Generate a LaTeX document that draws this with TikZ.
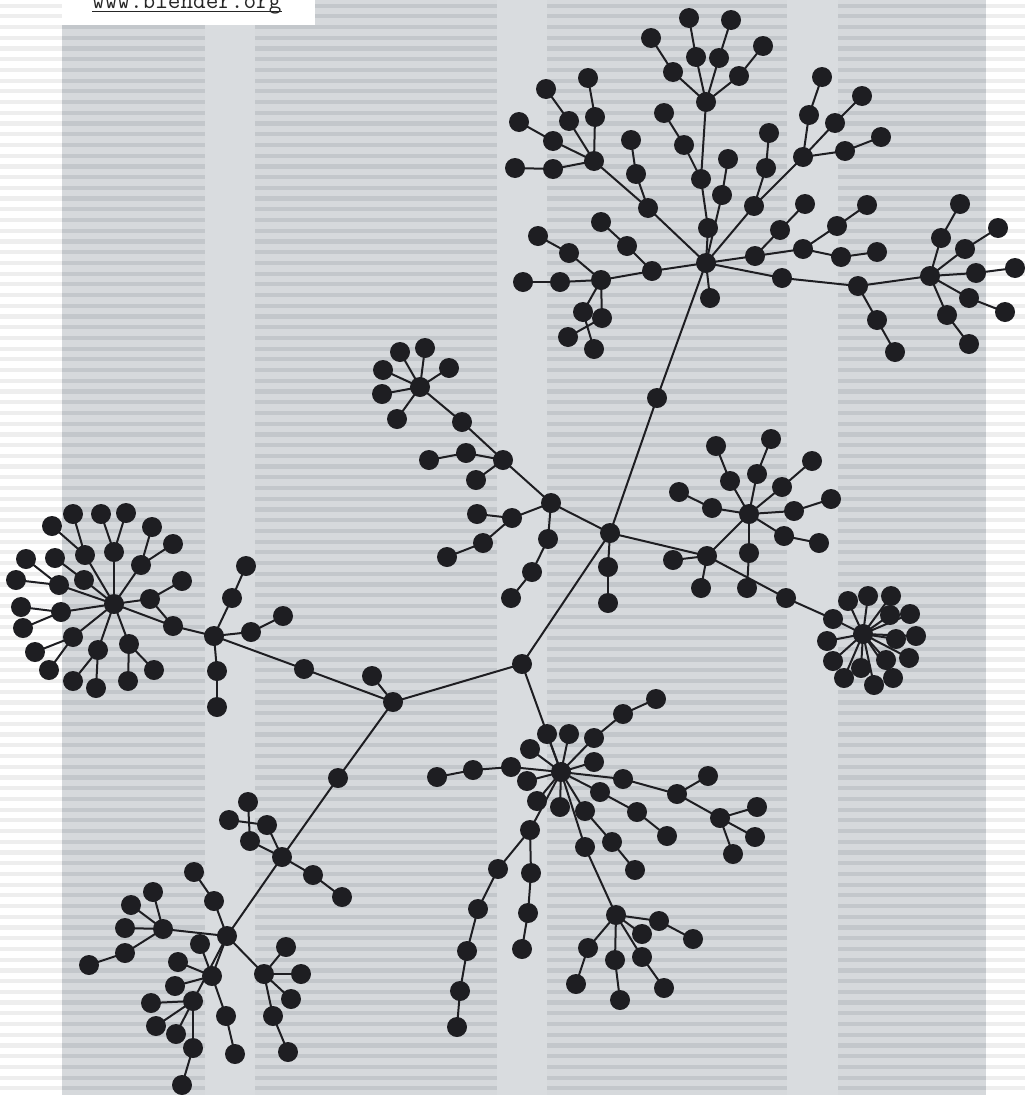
\documentclass[tikz,border=0pt]{standalone}
\definecolor{dotc}{HTML}{1E1E22}
\definecolor{greybase}{HTML}{D6D9DC}
\definecolor{greystripe}{HTML}{C3C7CB}
\definecolor{bandc}{HTML}{D9DCDF}
\definecolor{faint}{HTML}{EEEEEE}
\pgfdeclarelayer{back}
\pgfdeclarelayer{edges}
\pgfsetlayers{back,edges,main}
\begin{document}
\begin{tikzpicture}[x=1pt,y=-1pt,
  dot/.style={circle,fill=dotc,inner sep=0pt,minimum size=20pt},
  link/.style={draw=dotc,line width=2pt},
  stripe/.style={line width=4.2pt},
  band/.style={fill=bandc}]
\useasboundingbox (0,0) rectangle (1025,1095);
\clip (0,0) rectangle (1025,1095);
\begin{pgfonlayer}{back}
  \fill[white] (0,0) rectangle (1025,1095);
  \foreach \i in {0,...,102} \draw[stripe,draw=faint] (0,5.6+10.72*\i) -- (1025,5.6+10.72*\i);
  \fill[greybase] (62,0) rectangle (986,1095);
  \foreach \i in {0,...,102} \draw[stripe,draw=greystripe] (62,5.6+10.72*\i) -- (986,5.6+10.72*\i);
  \fill[band] (205,0) rectangle (255,1095);
  \fill[band] (497,0) rectangle (547,1095);
  \fill[band] (787,0) rectangle (838,1095);
  \fill[white] (62,0) rectangle (315,25);
\end{pgfonlayer}
\node[anchor=base west,inner sep=0pt,text=black!85,font=\ttfamily\fontsize{24.5}{26}\selectfont] (url) at (92,8.3) {www.blender.org};
\draw[black!85,line width=1.2pt] ([yshift=-3.4pt]url.base west) -- ([yshift=-3.4pt]url.base east);
\foreach \n/\x/\y in {
A/706/263, D/706/102, d1/673/72, d1a/651/38, d2/696/57, d2a/689/18, d3/719/58, d3a/731/20, d4/739/76, d4a/763/46,
a1/701/179, a1b/684/145, a1c/664/113, a2/708/228, a3/722/195, a3a/728/159,
e0/754/206, e0a/766/168, e0b/769/133, E/803/157, e1/809/115, e1a/822/77, e2/835/123, e2a/862/96, e3/845/151, e3a/881/137,
f0/755/256, f1/780/230, f1a/805/204, Fh/803/249, f2/837/226, f2a/867/205, f3/841/257, f3a/877/252,
g0/782/278, g1/858/286, g2/877/320, g2a/895/352, F/930/276, F1/941/238, F1a/960/204, F2/965/249, F2a/998/228, F3/976/273, F3a/1015/268, F4/969/298, F4a/1005/312, F5/947/315, F5a/969/344,
a4/710/298,
h0/652/271, h1/627/246, h1a/601/222, C/601/280, c1/560/282, c1a/523/282, c2/569/253, c2a/538/236, c3/583/312, c3a/594/349, c4/602/318, c4a/568/337,
b0/648/208, b1/636/174, b1a/631/140, B/594/161, B1/595/117, B1a/588/78, B2/569/121, B2a/546/89, B3/553/141, B3a/519/122, B4/553/169, B4a/515/168,
k0/657/398, G/610/533, G1/608/567, G1a/608/603,
J/551/503, I/503/460, j1/512/518, j1a/477/514, j2/483/543, j2a/447/557, j3/548/539, j3a/532/572, j3b/511/598,
i1/466/453, i1a/429/460, i2/476/480, i3/462/422, H/420/387, H1/400/352, H2/425/348, H3/383/370, H4/449/368, H5/382/394, H6/397/419,
M/707/556, m1/673/560, m2/701/588, m3/786/598, m4/833/619, N/749/514, n1/730/481, n1a/716/446, n2/757/474, n2a/771/439, n3/782/487, n3a/812/461, n4/794/511, n4a/831/499, n5/784/536, n5a/819/543, n6/712/508, n6a/679/492, n7/749/553, n7a/747/588,
O/863/634, o1/848/601, o2/868/596, o3/891/596, o4/910/614, o5/890/615, o6/916/636, o7/896/639, o8/827/641, o9/833/661, o10/861/668, o11/886/660, o12/909/658, o13/844/678, o14/874/685, o15/893/678,
P/114/604, p1/85/555, p1a/52/526, p1b/73/514, p2/114/552, p2a/101/514, p2b/126/513, p3/141/565, p3a/152/527, p3b/173/544, p4/84/580, p4a/55/558, p5/59/585, p5a/26/559, p5b/16/580, p6/150/599, p6a/182/581, p7/61/612, p7a/21/607, p7b/23/628, p8/73/637, p8a/35/652, p8b/49/670, p9/98/650, p9a/73/681, p9b/96/688, p10/129/644, p10a/128/681, p10b/154/670, p11/173/626,
Q/214/636, q1/232/598, q1a/246/566, q2/251/632, q2a/283/616, q3/217/671, q3a/217/707, q4/304/669,
L/393/702, l1/372/676, K/522/664, r0/338/778, R/282/857, r1/267/825, r1a/229/820, r2/250/841, r2a/248/802, r3/313/875, r3a/342/897,
T/227/936, t1/214/901, t1a/194/872, S/163/929, s1/153/892, s2/131/905, s3/125/928, s4/125/953, s4a/89/965, U/212/976, u1/200/944, u2/178/962, u3/175/986, u4/226/1016, u4a/235/1054, V/193/1001, v1/151/1003, v2/156/1026, v3/176/1034, v4/193/1048, v4a/182/1085, W/264/974, w1/286/947, w2/301/974, w3/291/999, w4/273/1016, w4a/288/1052,
X/561/772, x1/547/734, x2/569/734, x3/530/749, x4/594/762, x5/511/767, x5a/473/770, x5b/437/777, x6/527/781, x7/537/801, x8/560/807, x9/594/738, x9a/623/714, x9b/656/699, x10/623/779, Z/677/794, x11/600/792, x11a/637/812, x11b/667/836, x12/585/811, x12a/612/842, x12b/635/870, x13/585/847, Y/616/915, x14/530/830, x14a/498/869, x14b/478/909, x14c/467/951, x14d/460/991, x14e/457/1027, x14f/531/873, x14g/528/913, x14h/522/949,
y1/659/921, y1a/693/939, y2/642/934, y3/588/948, y3a/576/984, y4/615/960, y4a/620/1000, y5/642/957, y5a/664/988,
z1/708/776, z2/720/818, z2a/757/807, z2b/755/837, z2c/733/854}
  \node[dot] (\n) at (\x,\y) {};
\begin{pgfonlayer}{edges}
\foreach \a/\b in {
D/d1, d1/d1a, D/d2, d2/d2a, D/d3, d3/d3a, D/d4, d4/d4a, D/a1, a1/a1b, a1b/a1c, a1/a2, a2/A, a3/A, a3/a3a,
A/e0, e0/E, e0/e0a, e0a/e0b, E/e1, e1/e1a, E/e2, e2/e2a, E/e3, e3/e3a,
A/f0, f0/f1, f1/f1a, f0/Fh, Fh/f2, f2/f2a, Fh/f3, f3/f3a,
A/g0, g0/g1, g1/g2, g2/g2a, g1/F, F/F1, F1/F1a, F/F2, F2/F2a, F/F3, F3/F3a, F/F4, F4/F4a, F/F5, F5/F5a,
A/a4,
A/h0, h0/h1, h1/h1a, h0/C, C/c1, c1/c1a, C/c2, c2/c2a, C/c3, c3/c3a, C/c4, c4/c4a,
A/b0, b0/b1, b1/b1a, b0/B, B/B1, B1/B1a, B/B2, B2/B2a, B/B3, B3/B3a, B/B4, B4/B4a,
A/k0, k0/G, G/G1, G1/G1a, G/J, J/I, J/j1, j1/j1a, j1/j2, j2/j2a, J/j3, j3/j3a, j3a/j3b, I/i1, i1/i1a, I/i2, I/i3, i3/H, H/H1, H/H2, H/H3, H/H4, H/H5, H/H6,
G/M, M/m1, M/m2, M/m3, m3/m4, m4/O, M/N, N/n1, n1/n1a, N/n2, n2/n2a, N/n3, n3/n3a, N/n4, n4/n4a, N/n5, n5/n5a, N/n6, n6/n6a, N/n7, n7/n7a,
O/o1, O/o2, O/o3, O/o4, O/o5, O/o6, O/o7, O/o8, O/o9, O/o10, O/o11, O/o12, O/o13, O/o14, O/o15,
G/K, K/L, K/X, L/l1, L/q4, q4/Q, L/r0, r0/R,
Q/q1, q1/q1a, Q/q2, q2/q2a, Q/q3, q3/q3a, Q/p11, p11/P, p6/p11,
P/p1, p1/p1a, p1/p1b, P/p2, p2/p2a, p2/p2b, P/p3, p3/p3a, p3/p3b, P/p4, p4/p4a, P/p5, p5/p5a, p5/p5b, P/p6, p6/p6a, P/p7, p7/p7a, p7/p7b, P/p8, p8/p8a, p8/p8b, P/p9, p9/p9a, p9/p9b, P/p10, p10/p10a, p10/p10b,
R/r1, r1/r1a, R/r2, r2/r2a, R/r3, r3/r3a, R/T,
T/t1, t1/t1a, T/S, S/s1, S/s2, S/s3, S/s4, s4/s4a, T/U, U/u1, U/u2, U/u3, U/u4, u4/u4a, T/V, V/v1, V/v2, V/v3, V/v4, v4/v4a, T/W, W/w1, W/w2, W/w3, W/w4, w4/w4a,
X/x1, X/x2, X/x3, X/x4, X/x5, x5/x5a, x5a/x5b, X/x6, X/x7, X/x8, X/x9, x9/x9a, x9a/x9b, X/x10, x10/Z, X/x11, x11/x11a, x11a/x11b, X/x12, x12/x12a, x12a/x12b, X/x13, x13/Y, X/x14, x14/x14a, x14a/x14b, x14b/x14c, x14c/x14d, x14d/x14e, x14/x14f, x14f/x14g, x14g/x14h,
Y/y1, y1/y1a, Y/y2, Y/y3, y3/y3a, Y/y4, y4/y4a, Y/y5, y5/y5a,
Z/z1, Z/z2, z2/z2a, z2/z2b, z2/z2c}
  \draw[link] (\a.center) -- (\b.center);
\end{pgfonlayer}
\end{tikzpicture}
\end{document}
